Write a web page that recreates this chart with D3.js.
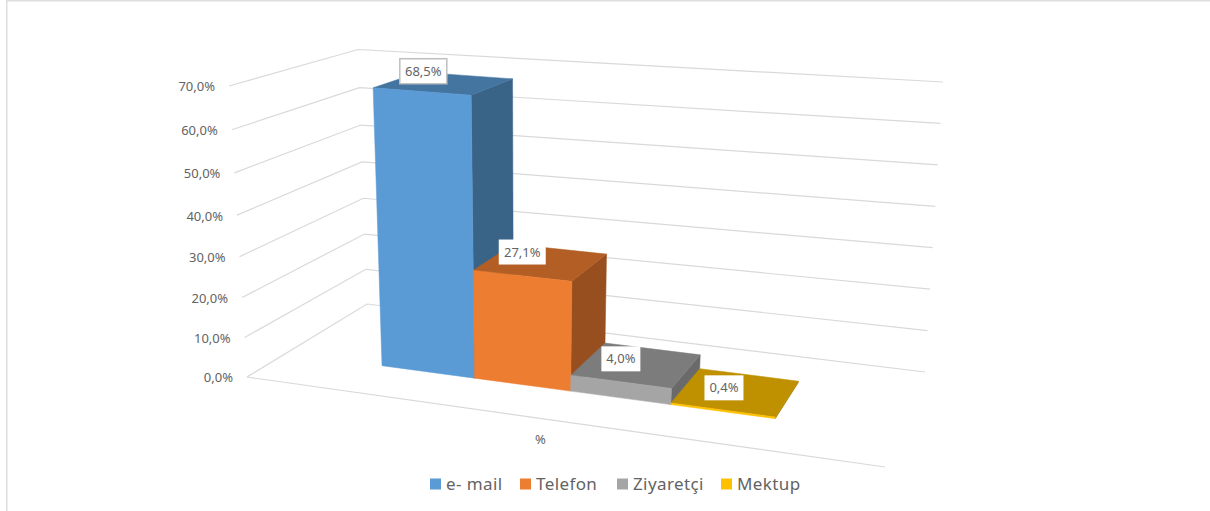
<!DOCTYPE html>
<html>
<head>
<meta charset="utf-8">
<script src="https://cdn.jsdelivr.net/npm/d3@7"></script>
<style>
	html, body { margin: 0; padding: 0; background: #fff; overflow: hidden; }
	text { font-family: "Noto Sans", sans-serif; fill: #636363; }
</style>
</head>
<body>
<div id="chart"></div>
<script>
const categories = ["e- mail", "Telefon", "Ziyaretçi", "Mektup"];
const values = [68.5, 27.1, 4.0, 0.4];
const valueLabels = ["68,5%", "27,1%", "4,0%", "0,4%"];
const tickValues = [0, 10, 20, 30, 40, 50, 60, 70];
const tickLabels = ["0,0%", "10,0%", "20,0%", "30,0%", "40,0%", "50,0%", "60,0%", "70,0%"];
const frontColors = ["#5b9bd5", "#ed7d31", "#a5a5a5", "#ffc000"];
const topColors = ["#4474a0", "#b25e25", "#7c7c7c", "#bf9000"];
const sideColors = ["#3a6388", "#984f1f", "#6a6a6a", "#a37b00"];

const width = 1210, height = 511;

// camera fitted by eye to the floor corners and the bar corners
// u = along the categories, d = depth, z = height (0..1)
function project(u, d, z) {
	const w = 1 - 0.12266 * u + 0.15216 * d - 0.06 * z;
	return [
		(529.45 * u + 175.84 * d + 247 - 31.7 * z) / w,
		(32.72 * u - 26.73 * d + 377 - 296.2 * z) / w
	];
}

const zScale = d3.scaleLinear().domain([0, 70]).range([0, 1]);
const uScale = d3.scaleBand().domain(categories).range([0.173, 0.818]);
const depth = [0.30, 0.70];

// the right ends of the gridlines do not quite follow the camera
const wallEndX = d3.scaleLinear().domain([0, 70]).range([925, 943]);
const wallEndY = d3.scaleLinear().domain([0, 70]).range([372, 82]);

const svg = d3.select("#chart").append("svg")
	.attr("width", width).attr("height", height)
	.style("display", "block");

svg.append("rect").attr("x", 6).attr("y", 0).attr("width", 1.5).attr("height", height).attr("fill", "#dedede");
svg.append("rect").attr("x", 6).attr("y", 0).attr("width", width - 6).attr("height", 1.5).attr("fill", "#dedede");

const line = d3.line();
const gridColor = "#d9d9d9";

// walls
svg.append("g").selectAll("path").data(tickValues).join("path")
	.attr("d", t => line([
		project(0, 0, zScale(t)),
		project(0, 1, zScale(t)),
		[wallEndX(t), wallEndY(t)]
	]))
	.attr("fill", "none").attr("stroke", gridColor).attr("stroke-width", 1.2);

// front edge of the floor
svg.append("path")
	.attr("d", line([project(0, 0, 0), project(1, 0, 0)]))
	.attr("fill", "none").attr("stroke", gridColor).attr("stroke-width", 1.2);

// tick labels
svg.append("g").selectAll("text").data(tickValues).join("text")
	.attr("x", t => project(0, 0, zScale(t))[0] - 14)
	.attr("y", t => project(0, 0, zScale(t))[1] + 2)
	.attr("text-anchor", "end").attr("dominant-baseline", "middle")
	.attr("font-size", 13)
	.text((t, i) => tickLabels[i]);

// bars, left to right so that each one covers the side of the one before
const bars = svg.append("g").selectAll("g").data(categories).join("g");
function face(corners) {
	return line(corners.map(p => project(p[0], p[1], p[2]))) + "Z";
}
bars.each(function(c, i) {
	const u0 = uScale(c), u1 = u0 + uScale.bandwidth();
	const z = zScale(values[i]);
	const [d0, d1] = depth;
	const g = d3.select(this);
	g.append("path").attr("fill", sideColors[i]).attr("stroke", sideColors[i]).attr("stroke-width", 0.5)
		.attr("d", face([[u1, d0, 0], [u1, d1, 0], [u1, d1, z], [u1, d0, z]]));
	g.append("path").attr("fill", topColors[i]).attr("stroke", topColors[i]).attr("stroke-width", 0.5)
		.attr("d", face([[u0, d0, z], [u1, d0, z], [u1, d1, z], [u0, d1, z]]));
	g.append("path").attr("fill", frontColors[i]).attr("stroke", frontColors[i]).attr("stroke-width", 0.5)
		.attr("d", face([[u0, d0, 0], [u1, d0, 0], [u1, d0, z], [u0, d0, z]]));
});

// data labels sit up and left of the centre of each bar top
const labelNudge = [[-21, -12], [-19, -10], [-16, -6], [-12, -4]];
const labelWidth = [47, 47, 39, 39], labelHeight = 25;
const labels = svg.append("g").selectAll("g").data(categories).join("g")
	.attr("transform", (c, i) => {
		const p = project(uScale(c) + uScale.bandwidth() / 2, (depth[0] + depth[1]) / 2, zScale(values[i]));
		return `translate(${p[0] + labelNudge[i][0]},${p[1] + labelNudge[i][1]})`;
	});
labels.append("rect")
	.attr("x", (c, i) => -labelWidth[i] / 2).attr("y", -labelHeight / 2)
	.attr("width", (c, i) => labelWidth[i]).attr("height", labelHeight)
	.attr("fill", "#fff")
	.attr("stroke", (c, i) => i === 0 ? "#bfbfbf" : "none")
	.attr("stroke-width", 1.5);
labels.append("text")
	.attr("y", 1)
	.attr("text-anchor", "middle").attr("dominant-baseline", "middle")
	.attr("font-size", 13)
	.text((c, i) => valueLabels[i]);

// axis title
svg.append("text")
	.attr("x", 540.5).attr("y", 441)
	.attr("text-anchor", "middle").attr("dominant-baseline", "middle")
	.attr("font-size", 13)
	.text("%");

// legend
const legendX = [430, 520, 617, 721];
const legend = svg.append("g").selectAll("g").data(categories).join("g")
	.attr("transform", (c, i) => `translate(${legendX[i]},484)`);
legend.append("rect")
	.attr("y", -5.5).attr("width", 11).attr("height", 11)
	.attr("fill", (c, i) => frontColors[i]);
legend.append("text")
	.attr("x", 16).attr("y", 1).attr("dominant-baseline", "middle")
	.attr("font-size", 17).attr("letter-spacing", 0.4)
	.text(c => c);
</script>
</body>
</html>
